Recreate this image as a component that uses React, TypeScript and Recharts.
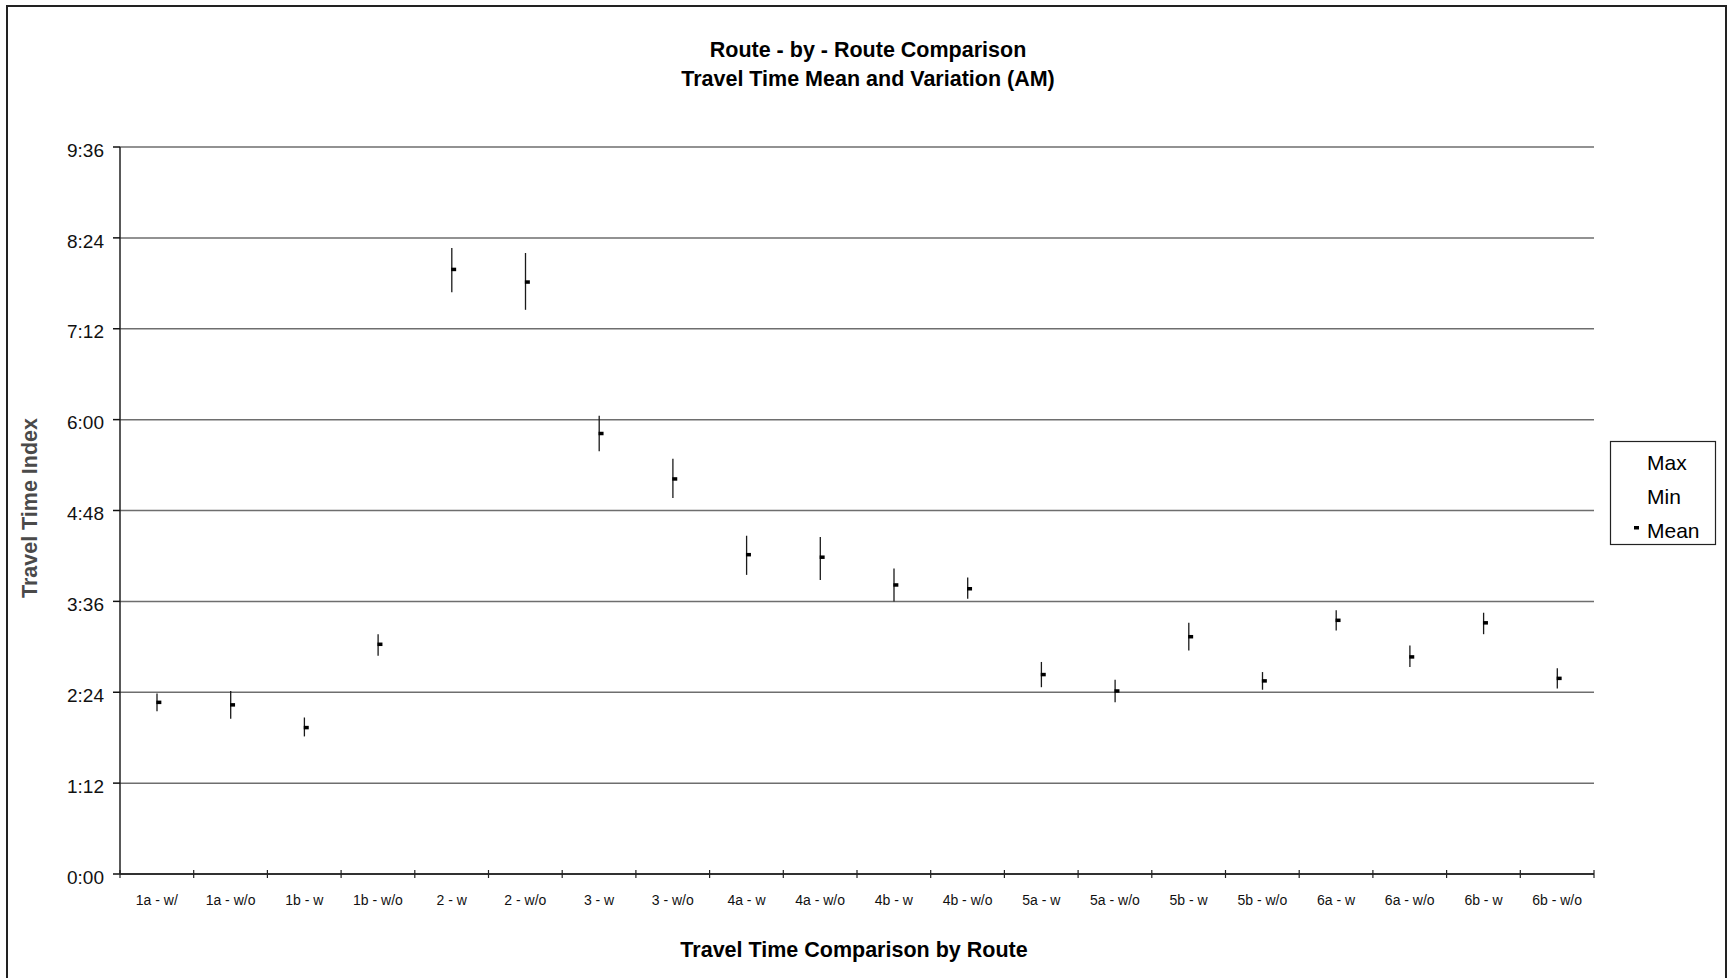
import { ComposedChart, Bar, Scatter, XAxis, YAxis, CartesianGrid } from 'recharts';

// route labels and travel times in seconds
const routes = [
  '1a - w/', '1a - w/o', '1b - w', '1b - w/o', '2 - w', '2 - w/o', '3 - w', '3 - w/o',
  '4a - w', '4a - w/o', '4b - w', '4b - w/o', '5a - w', '5a - w/o', '5b - w', '5b - w/o',
  '6a - w', '6a - w/o', '6b - w', '6b - w/o',
];
const maxTimes = [143, 145, 124, 190, 496, 492, 363, 329, 268, 267, 242, 235, 168, 154, 199, 160, 209, 181, 207, 163];
const minTimes = [129, 123, 109, 173, 461, 447, 335, 298, 237, 233, 216, 218, 148, 136, 177, 146, 193, 164, 190, 147];
const meanTimes = [136, 134, 116, 182, 479, 469, 349, 313, 253, 251, 229, 226, 158, 145, 188, 153, 201, 172, 199, 155];
const yTicks = [0, 72, 144, 216, 288, 360, 432, 504, 576];

const data = routes.map((r, i) => ({ route: r, max: maxTimes[i], min: minTimes[i], mean: meanTimes[i] }));

const W = 1731;
const H = 978;
const M = { top: 147, right: 137, bottom: 74, left: 0 };
const BAND = (W - 120 - M.right) / routes.length;
const FONT = '"Liberation Sans", Arial, sans-serif';

const fmtTime = (s: number) => `${Math.floor(s / 60)}:${String(s % 60).padStart(2, '0')}`;

function RangeLine(props: any) {
  const { x, y, width, height } = props;
  const cx = x + width / 2;
  return <line x1={cx} x2={cx} y1={y} y2={y + height} stroke="#1a1a1a" strokeWidth={1.3} />;
}

function MeanTick(props: any) {
  const { cx, cy } = props;
  return <rect x={cx - 0.5} y={cy - 1.75} width={5} height={3.5} fill="#000" />;
}

function RouteTick(props: any) {
  const { x, y, payload, index } = props;
  const left = x - BAND / 2;
  return (
    <g>
      <line x1={left} x2={left} y1={y - 10} y2={y - 2} stroke="#222" strokeWidth={1.2} />
      {index === routes.length - 1 && (
        <line x1={left + BAND} x2={left + BAND} y1={y - 10} y2={y - 2} stroke="#222" strokeWidth={1.2} />
      )}
      <text x={x} y={y + 25} textAnchor="middle" fontSize={14} fontFamily={FONT} fill="#111">
        {payload.value}
      </text>
    </g>
  );
}

export default function App() {
  return (
    <div style={{ position: 'fixed', left: 0, top: 0, width: W, height: H, background: '#fff', overflow: 'hidden' }}>
      {/* outer frame */}
      <div style={{ position: 'absolute', left: 6, top: 5, width: 1721, height: 1000, border: '2px solid #222', boxSizing: 'border-box' }} />

      <ComposedChart width={W} height={H} data={data} margin={M} style={{ position: 'absolute', left: 0, top: 0 }}>
        <CartesianGrid vertical={false} stroke="#6e6e6e" strokeWidth={1.5} />
        <XAxis
          dataKey="route"
          tick={<RouteTick />}
          tickLine={false}
          tickSize={4}
          tickMargin={2}
          height={30}
          interval={0}
          axisLine={{ stroke: '#111', strokeWidth: 1.5 }}
        />
        <YAxis
          domain={[0, 576]}
          ticks={yTicks}
          tickFormatter={fmtTime}
          width={120}
          tickSize={7}
          tickMargin={9}
          tick={{ fontSize: 19, fontFamily: FONT, fill: '#111', dy: 3 }}
          tickLine={{ stroke: '#111', strokeWidth: 1.5 }}
          axisLine={{ stroke: '#222', strokeWidth: 1.5 }}
        />
        <YAxis yAxisId="frame" orientation="right" width={0} tick={false} tickLine={false} axisLine={{ stroke: '#777', strokeWidth: 1.5 }} />
        <Bar dataKey={(d: any) => [d.min, d.max]} barSize={2} shape={<RangeLine />} isAnimationActive={false} />
        <Scatter dataKey="mean" shape={<MeanTick />} isAnimationActive={false} />
      </ComposedChart>

      <svg width={W} height={H} style={{ position: 'absolute', left: 0, top: 0, pointerEvents: 'none' }}>
        <g fontFamily={FONT} fontWeight="bold" fontSize={21.5} fill="#000" textAnchor="middle">
          <text x={868} y={57}>Route - by - Route Comparison</text>
          <text x={868} y={86}>Travel Time Mean and Variation (AM)</text>
          <text x={854} y={957}>Travel Time Comparison by Route</text>
          <text x={37} y={508} transform="rotate(-90 37 508)" fill="#4a4a4a">Travel Time Index</text>
        </g>
        {/* legend */}
        <rect x={1610.5} y={441.5} width={105} height={103} fill="#fff" stroke="#222" strokeWidth={1.2} />
        <g fontFamily={FONT} fontSize={21} fill="#000">
          <text x={1647} y={470}>Max</text>
          <text x={1647} y={504}>Min</text>
          <rect x={1634} y={526} width={5} height={3.5} fill="#000" />
          <text x={1647} y={538}>Mean</text>
        </g>
      </svg>
    </div>
  );
}
